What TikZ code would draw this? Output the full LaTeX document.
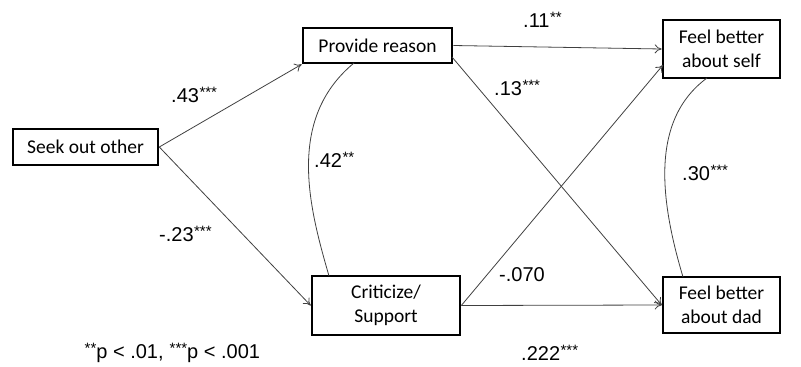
\documentclass[tikz,border=0pt]{standalone}
\usepackage{fontspec}
\setmainfont{Liberation Sans}
\newfontfamily\boxfont{Carlito}
\usetikzlibrary{arrows.meta}
\newcommand{\stars}[1]{\kern0.5pt{\fontsize{15}{15}\selectfont\raisebox{5pt}{#1}}}
\tikzset{
  box/.style={draw=black, line width=2.6pt, fill=white, inner sep=0pt, align=center,
    font=\boxfont\fontsize{19.5}{24}\selectfont},
  conn/.style={draw=black!75, line width=0.8pt, -{To[length=7pt,width=9pt]}},
  corr/.style={draw=black!75, line width=0.8pt},
  lab/.style={font=\fontsize{20}{20}\selectfont, inner sep=0pt, anchor=west},
}
\begin{document}
\begin{tikzpicture}[x=1pt,y=-1pt]
\useasboundingbox (0,0) rectangle (801,367);
\node[box, minimum width=145pt, minimum height=36pt] (seek) at (85.5,147) {Seek out other};
\node[box, minimum width=149pt, minimum height=35pt] (prov) at (377.5,45.5) {Provide reason};
\node[box, minimum width=148pt, minimum height=59pt] (crit) at (386,305.5) {Criticize/\\Support};
\node[box, minimum width=117pt, minimum height=58pt] (self) at (721.5,49) {Feel better\\about self};
\node[box, minimum width=117pt, minimum height=56pt] (dad) at (721.5,305) {Feel better\\about dad};

\coordinate (provA) at (354,63);
\coordinate (critA) at (329,276);
\coordinate (selfA) at (707,78);
\coordinate (dadA) at (683,277);
\coordinate (provSE) at (452,57);
\coordinate (selfW2) at (663,65);

\draw[conn] (seek.east) -- (prov.south west);
\draw[conn] (seek.east) -- (crit.west);
\draw[conn] (prov.east) -- (self.west);
\draw[conn] (provSE) -- (dad.west);
\draw[conn] (crit.east) -- (selfW2);
\draw[conn] (crit.east) -- (dad.west);
\draw[corr] (provA) .. controls (285,120) and (310,210) .. (critA);
\draw[corr] (selfA) .. controls (650,120) and (660,200) .. (dadA);

\node[lab] (l43) at (171,95) {.43\stars{***}};
\node[lab] (l23) at (159,234) {-.23\stars{***}};
\node[lab] (l42) at (314,160) {.42\stars{**}};
\node[lab] (l11) at (523,20) {.11\stars{**}};
\node[lab] (l13) at (494,88) {.13\stars{***}};
\node[lab] (l070) at (499,275) {-.070};
\node[lab] (l222) at (521,353) {.222\stars{***}};
\node[lab] (l30) at (682,173) {.30\stars{***}};
\node[lab, font=\fontsize{20}{20}\selectfont] (foot) at (84,353) {\stars{**}p < .01, \stars{***}p < .001};
\end{tikzpicture}
\end{document}
